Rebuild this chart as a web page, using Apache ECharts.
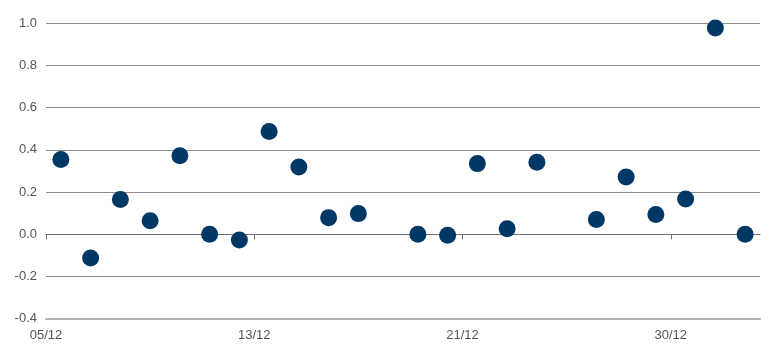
<!DOCTYPE html>
<html>
<head>
<meta charset="utf-8">
<script src="https://cdn.jsdelivr.net/npm/echarts@6/dist/echarts.min.js"></script>
<style>html,body{margin:0;padding:0;background:#fff;}#c{width:770px;height:357px;}</style>
</head>
<body>
<div id="c"></div>
<script>
// Tick labels and their slot positions on the x scale
const tickLabels = ['05/12', '13/12', '21/12', '30/12'];
const tickSlots = [0, 7, 14, 21];
// One value per daily slot (null = no observation)
const values = [0.354, -0.112, 0.165, 0.064, 0.372, 0.0, -0.027, 0.487, 0.319, 0.079,
                0.098, null, 0.0, -0.004, 0.335, 0.026, 0.341, null, 0.070, 0.272,
                0.094, 0.167, 0.978, 0.0];
const yTicks = [-0.4, -0.2, 0.0, 0.2, 0.4, 0.6, 0.8, 1.0];

const points = [];
values.forEach((v, i) => { if (v !== null) points.push([i + 0.5, v]); });

const chart = echarts.init(document.getElementById('c'));
const textColor = '#555555';
const font = 'Liberation Sans, Arial, sans-serif';
chart.setOption({
  animation: false,
  grid: { left: 46, right: 10, top: 23.3, bottom: 38.3, containLabel: false },
  xAxis: [
    {
      type: 'value', min: 0, max: values.length,
      position: 'bottom',
      axisLine: { onZero: false, lineStyle: { color: '#b4b4b4', width: 2 } },
      axisTick: { show: false },
      splitLine: { show: false },
      axisLabel: {
        customValues: tickSlots,
        color: textColor, fontSize: 13, fontFamily: font, margin: 10,
        formatter: (v) => { const k = tickSlots.indexOf(Math.round(v)); return k >= 0 ? tickLabels[k] : ''; }
      },
      z: 3
    },
    {
      type: 'value', min: 0, max: values.length,
      position: 'top',
      axisLine: { show: true, onZero: true, lineStyle: { color: '#6e6e6e', width: 1 } },
      axisTick: { show: true, inside: true, length: 5, customValues: tickSlots, lineStyle: { color: '#6e6e6e' } },
      axisLabel: { show: false },
      splitLine: { show: false }
    }
  ],
  yAxis: {
    type: 'value', min: yTicks[0], max: yTicks[yTicks.length - 1], interval: 0.2,
    axisLine: { show: false },
    axisTick: { show: false },
    axisLabel: {
      color: textColor, fontSize: 13, fontFamily: font, margin: 9,
      formatter: (v) => v.toFixed(1)
    },
    splitLine: { show: true, lineStyle: { color: ['#b4b4b4', '#8c8c8c', '#8c8c8c', '#8c8c8c', '#8c8c8c', '#8c8c8c', '#8c8c8c', '#8c8c8c'], width: 1 } }
  },
  series: [{
    type: 'scatter',
    xAxisIndex: 0,
    data: points,
    symbol: 'circle',
    symbolSize: 17,
    itemStyle: { color: '#003865', opacity: 1 },
    z: 5
  }]
});
</script>
</body>
</html>
